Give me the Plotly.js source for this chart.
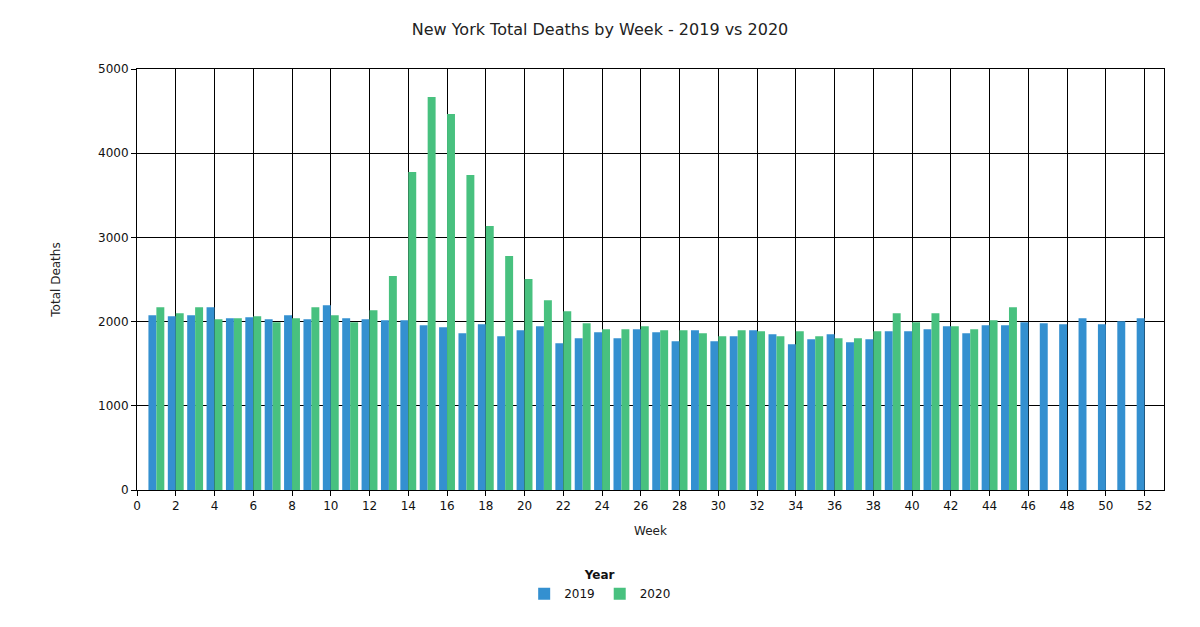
<!DOCTYPE html>
<html>
<head>
<meta charset="utf-8">
<script src="https://cdn.plot.ly/plotly-3.0.1.min.js"></script>
<style>
  body { margin: 0; background: #fff; }
  #myDiv { width: 1200px; height: 627px; }
</style>
</head>
<body>
<div id="myDiv"></div>
<script>
const weeks2019 = [];
for (let w = 1; w <= 52; w++) weeks2019.push(w);
const weeks2020 = weeks2019.slice(0, 45);

const deaths2019 = [
  2075, 2063, 2075, 2170, 2040, 2051, 2028, 2075, 2028, 2194,
  2040, 2028, 2016, 2016, 1956, 1933, 1861, 1968, 1826, 1897,
  1945, 1743, 1802, 1873, 1802, 1909, 1873, 1766, 1897, 1766,
  1826, 1897, 1850, 1731, 1790, 1850, 1754, 1790, 1885, 1885,
  1909, 1945, 1861, 1956, 1956, 1992, 1980, 1968, 2040, 1968,
  2004, 2040
];

const deaths2020 = [
  2170, 2099, 2170, 2028, 2040, 2063, 1992, 2040, 2170, 2075,
  1992, 2135, 2541, 3777, 4667, 4465, 3741, 3135, 2779, 2506,
  2253, 2123, 1980, 1909, 1909, 1945, 1897, 1897, 1861, 1826,
  1897, 1885, 1826, 1885, 1826, 1802, 1802, 1885, 2099, 1992,
  2099, 1945, 1909, 2016, 2170
];

const font = 'Verdana, "DejaVu Sans", sans-serif';

const y2019 = {
  x: weeks2019,
  y: deaths2019,
  type: 'bar',
  name: '2019',
  marker: { color: '#3490d0' }
};

const y2020 = {
  x: weeks2020,
  y: deaths2020,
  type: 'bar',
  name: '2020',
  marker: { color: '#48c17f' }
};

var layout = {
  width: 1200,
  height: 627,
  margin: { l: 137, r: 36, t: 69, b: 137 },
  paper_bgcolor: '#fff',
  plot_bgcolor: '#fff',
  font: { family: font, size: 12, color: '#111' },
  title: {
    text: 'New York Total Deaths by Week - 2019 vs 2020',
    font: { family: font, size: 16, color: '#222' },
    x: 0.5,
    y: 0.953,
    yanchor: 'middle'
  },
  barmode: 'group',
  bargap: 0.18,
  bargroupgap: 0,
  xaxis: {
    range: [0, 53],
    tick0: 0,
    dtick: 2,
    ticks: 'outside',
    ticklen: 5,
    tickcolor: '#000',
    showgrid: true,
    gridcolor: '#000',
    gridwidth: 1,
    showline: true,
    linecolor: '#000',
    mirror: true,
    zeroline: false,
    title: { text: 'Week', font: { family: font, size: 12, color: '#222' }, standoff: 14 }
  },
  yaxis: {
    range: [0, 5000],
    dtick: 1000,
    ticks: 'outside',
    ticklen: 5,
    tickcolor: '#000',
    showgrid: true,
    gridcolor: '#000',
    gridwidth: 1,
    showline: true,
    linecolor: '#000',
    mirror: true,
    zeroline: false,
    title: { text: 'Total Deaths', font: { family: font, size: 12, color: '#222' }, standoff: 34 }
  },
  legend: {
    orientation: 'h',
    x: 0.451,
    xanchor: 'center',
    y: -0.175,
    yanchor: 'top',
    title: { text: '<b>Year</b>', side: 'top center', font: { family: font, size: 12 } },
    font: { family: font, size: 12 }
  }
};

Plotly.newPlot('myDiv', [y2019, y2020], layout, { displayModeBar: false });
</script>
</body>
</html>
